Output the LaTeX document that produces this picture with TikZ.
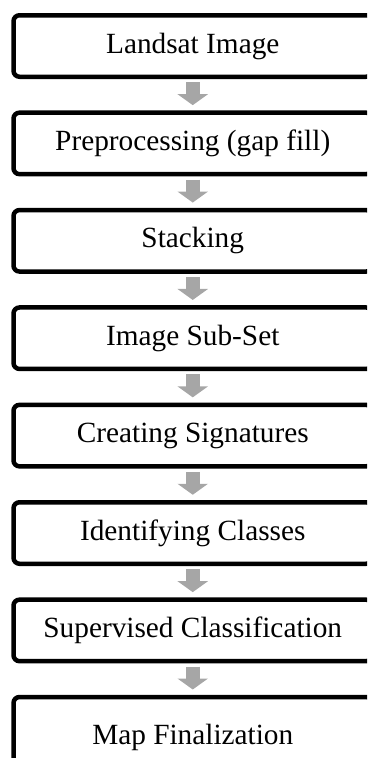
\documentclass[tikz,border=0pt]{standalone}
\usepackage{fontspec}
\setmainfont{Liberation Serif}
\usetikzlibrary{arrows.meta,calc}
\tikzset{
  stepbox/.style={draw=black, line width=4.5pt, rounded corners=6pt, rectangle,
    minimum width=358.5pt, minimum height=61.5pt, inner sep=0pt, outer sep=0pt,
    font=\fontsize{29.3}{33}\selectfont, text=black},
  flowarrow/.style={draw=black!35, line width=14pt,
    -{Triangle[width=30pt,length=11pt]}}
}
\begin{document}
\begin{tikzpicture}[x=1pt,y=1pt]
  \useasboundingbox (0,0) rectangle (367,-758);
  \clip (0,0) rectangle (367,-758);
  % process steps, top to bottom
  \node[stepbox] (s1) at (192.75,-46)    {Landsat Image};
  \node[stepbox] (s2) at (192.75,-143.4) {Preprocessing (gap fill)};
  \node[stepbox] (s3) at (192.75,-240.8) {Stacking};
  \node[stepbox] (s4) at (192.75,-338.2) {Image Sub-Set};
  \node[stepbox] (s5) at (192.75,-435.6) {Creating Signatures};
  \node[stepbox] (s6) at (192.75,-533)   {Identifying Classes};
  \node[stepbox] (s7) at (192.75,-630.4) {Supervised Classification};
  \node[stepbox, minimum height=80pt] (s8) at (192.75,-737) {Map Finalization};
  % grey block arrows between consecutive steps
  \foreach \a/\b in {s1/s2,s2/s3,s3/s4,s4/s5,s5/s6,s6/s7,s7/s8}
    \draw[flowarrow] ($(\a.south)+(0,-5.5)$) -- ($(\b.north)+(0,7.5)$);
\end{tikzpicture}
\end{document}
